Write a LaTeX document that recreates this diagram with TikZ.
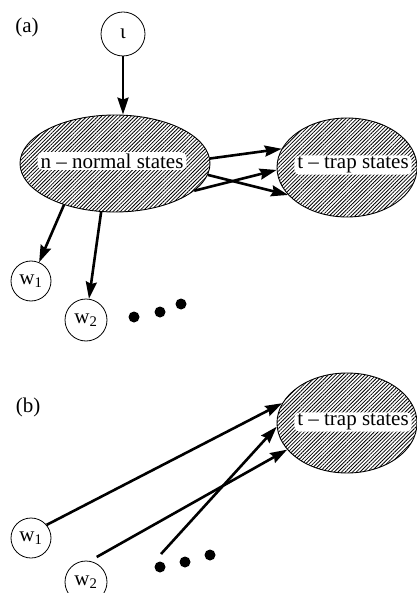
\documentclass[tikz,border=0pt]{standalone}
\usepackage{fontspec}
\setmainfont{Liberation Serif}
\usetikzlibrary{shapes.geometric,arrows.meta,patterns.meta}

\begin{document}
\begin{tikzpicture}[x=1pt, y=-1pt,
        stateset/.style={ellipse, draw=black, line width=0.9pt, inner sep=0pt,
                    pattern={Lines[angle=45,distance=2.6pt,line width=0.8pt]}},
        setlabel/.style={fill=white, rounded corners=5pt, inner xsep=3pt, inner ysep=1.5pt,
                    font=\fontsize{21}{25}\selectfont},
        state/.style={circle, draw=black, line width=0.8pt, minimum size=40pt, inner sep=0pt,
                    font=\fontsize{21}{25}\selectfont},
        blob/.style={circle, fill=black, minimum size=11pt, inner sep=0pt},
        panel/.style={font=\fontsize{21}{25}\selectfont},
        arrow/.style={-{Stealth[length=17pt,width=11pt,inset=2pt]}, line width=2.6pt}
    ]
        \useasboundingbox (0,0) rectangle (416,593);

        % (a)
        \node[panel] (pa) at (27,27) {(a)};
        \node[state, minimum size=44pt] (iota) at (123,34) {ι};
        \node[stateset, minimum width=190pt, minimum height=97pt] (n) at (115,163.5) {};
        \node[setlabel] (nlab) at (112,161) {n -- normal states};
        \node[stateset, minimum width=140pt, minimum height=99pt] (t) at (347,167.5) {};
        \node[setlabel] (tlab) at (353,165) {t -- trap states};
        \node[state] (w1) at (31,281) {w\textsubscript{1}};
        \node[state, minimum size=42pt] (w2) at (86,320) {w\textsubscript{2}};
        \node[blob] (d1) at (134,317) {};
        \node[blob] (d2) at (160,312) {};
        \node[blob] (d3) at (181,304) {};

        \draw[arrow] (iota) -- (n.north -| iota);
        \draw[arrow] (n.3) -- (t.164);
        \draw[arrow] (n.-7) -- (t.205);
        \draw[arrow] (n.-19) -- (t.182);
        \draw[arrow] (n.-141) -- (w1);
        \draw[arrow] (n.254) -- (w2);

        % (b)
        \node[panel] (pb) at (28,407) {(b)};
        \node[stateset, minimum width=140pt, minimum height=100pt] (tb) at (347,423) {};
        \node[setlabel] (tblab) at (353,422) {t -- trap states};
        \node[state] (w1b) at (31,538) {w\textsubscript{1}};
        \node[state, minimum size=42pt] (w2b) at (86,582) {w\textsubscript{2}};
        \node[blob] (e1) at (160,567) {};
        \node[blob] (e2) at (185,562) {};
        \node[blob] (e3) at (210,555) {};
        \coordinate (estart) at (161,554);

        \draw[arrow] (w1b.40) -- (tb.163);
        \draw[arrow] (estart) -- (tb.183);
        \draw[arrow, shorten <=8pt] (w2b.80) -- (tb.204);
    \end{tikzpicture}
\end{document}
